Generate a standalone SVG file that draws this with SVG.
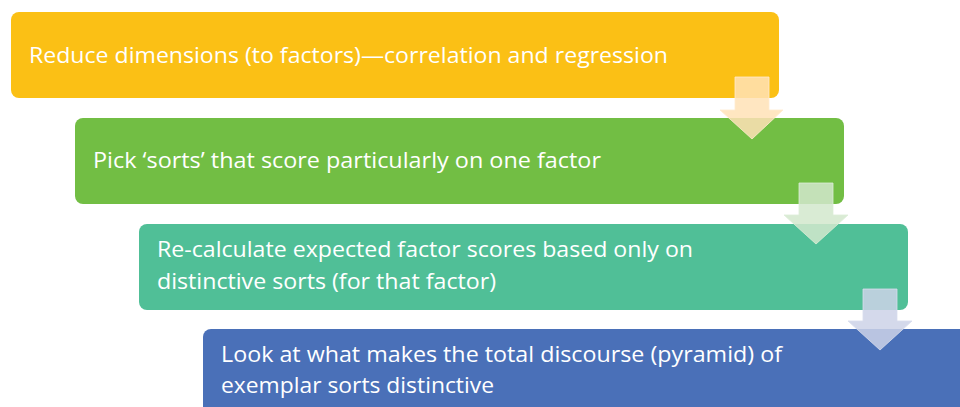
<svg xmlns="http://www.w3.org/2000/svg" width="960" height="407" viewBox="0 0 960 407">
<style>
.box{stroke:none}
.t{font-family:"Open Sans","Liberation Sans",sans-serif;font-size:21px;fill:#ffffff}
.arr{stroke-width:1}
</style>
<rect width="960" height="407" fill="#ffffff"/>
<g id="node1"><rect class="box" x="11" y="12" width="768" height="86" rx="8" fill="#FBC015"/>
<text class="t" x="29" y="63" textLength="639" lengthAdjust="spacingAndGlyphs">Reduce dimensions (to factors)—correlation and regression</text></g>
<g id="node2"><rect class="box" x="75" y="118" width="769" height="86" rx="8" fill="#72BE44"/>
<text class="t" x="93" y="168" textLength="508" lengthAdjust="spacingAndGlyphs">Pick ‘sorts’ that score particularly on one factor</text></g>
<g id="node3"><rect class="box" x="139" y="224" width="769" height="86" rx="8" fill="#50BF97"/>
<text class="t" x="157" y="257" textLength="536" lengthAdjust="spacingAndGlyphs">Re-calculate expected factor scores based only on</text>
<text class="t" x="157" y="289" textLength="339" lengthAdjust="spacingAndGlyphs">distinctive sorts (for that factor)</text></g>
<g id="node4"><rect class="box" x="203" y="329" width="769" height="86" rx="8" fill="#4A70B8"/>
<text class="t" x="221" y="362" textLength="561" lengthAdjust="spacingAndGlyphs">Look at what makes the total discourse (pyramid) of</text>
<text class="t" x="221" y="393" textLength="273" lengthAdjust="spacingAndGlyphs">exemplar sorts distinctive</text></g>
<g id="connectors">
<polygon class="arr" points="735,77 769,77 769,110 783,110 752,139 720,110 735,110" fill="#FFE2B6" fill-opacity="0.85" stroke="#FFEBD0" stroke-opacity="0.8"/>
<polygon class="arr" points="799,183 833,183 833,215 848,215 816,244 784,215 799,215" fill="#D2E8CC" fill-opacity="0.85" stroke="#DDEED8" stroke-opacity="0.8"/>
<polygon class="arr" points="863,289 897,289 897,321 912,321 880,350 848,321 863,321" fill="#CCD2E8" fill-opacity="0.85" stroke="#D8DDEE" stroke-opacity="0.8"/>
</g>
</svg>
